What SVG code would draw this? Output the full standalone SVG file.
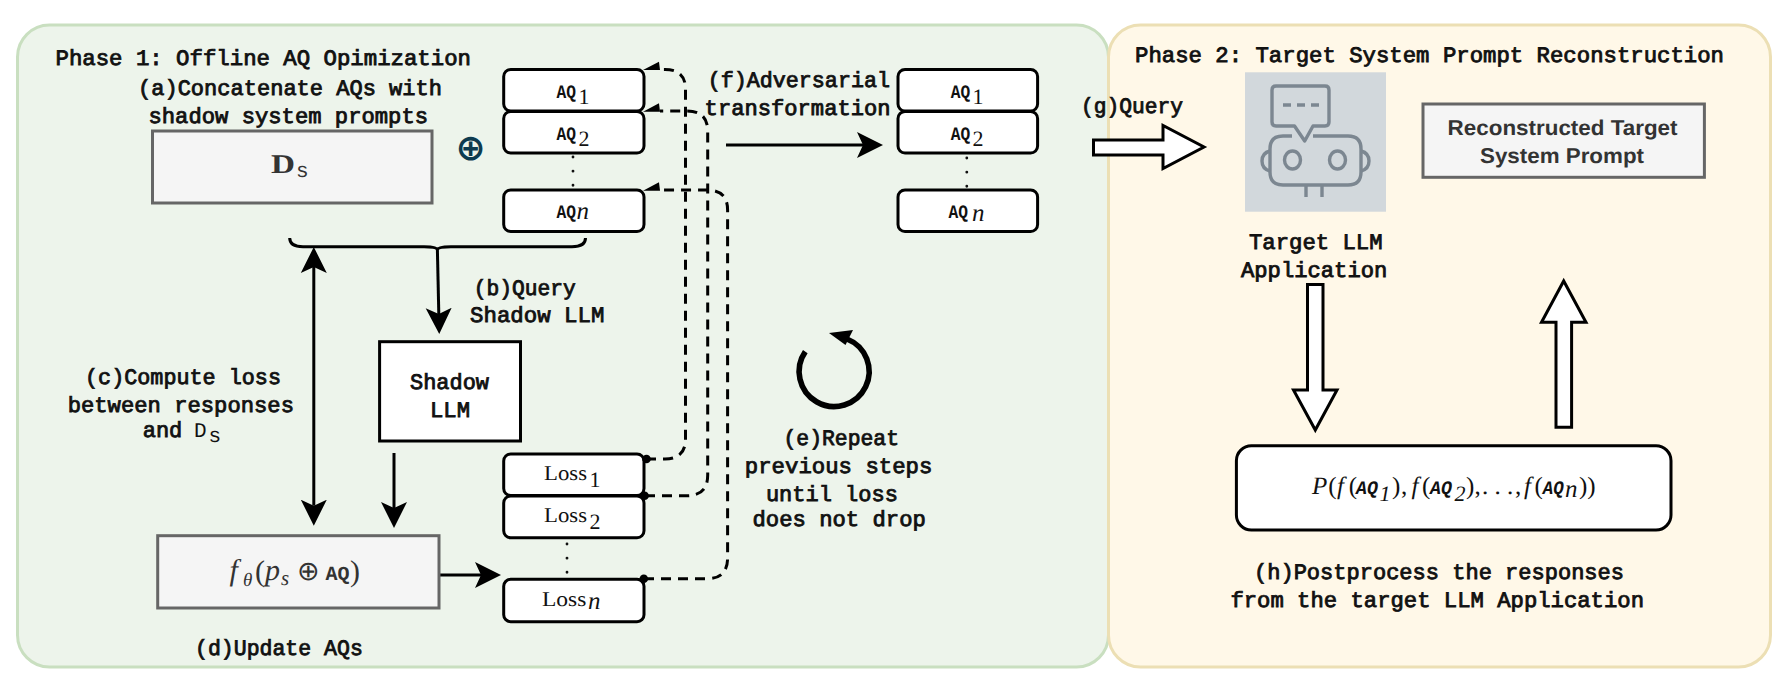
<svg xmlns="http://www.w3.org/2000/svg" width="1788" height="682" viewBox="0 0 1788 682">
<style>
text{text-rendering:geometricPrecision;white-space:pre}
.m{font-family:"Liberation Mono",monospace;font-size:22px;fill:#111;stroke:#111;stroke-width:.85px}
.mn{font-family:"Liberation Mono",monospace;font-size:21px;fill:#111;stroke:none}
.aq{font-family:"Liberation Mono",monospace;font-size:19px;font-weight:bold;fill:#111}
.s{font-family:"Liberation Serif",serif;font-size:22px;font-weight:normal;fill:#111}
.i{font-family:"Liberation Serif",serif;font-size:25px;font-style:italic;font-weight:normal;fill:#111}
.l{font-family:"Liberation Serif",serif;font-size:21px;fill:#111}
.g{fill:#333}
.h{font-family:"Liberation Sans",sans-serif;font-size:21.5px;font-weight:bold;fill:#333}
.b{fill:#fff;stroke:#000;stroke-width:3}
.r{fill:#f5f5f5;stroke:#666;stroke-width:3}
.a{fill:none;stroke:#000;stroke-width:3}
.d{fill:none;stroke:#000;stroke-width:3;stroke-dasharray:10 7}
.dot{fill:none;stroke:#111;stroke-width:2.8;stroke-linecap:round;stroke-dasharray:.1 14}
.ba{fill:#fff;stroke:#000;stroke-width:3;stroke-linejoin:miter}
.ic{fill:none;stroke:#7c8791;stroke-width:3.4;stroke-linejoin:round}
</style>
<defs>
<marker id="ah" markerUnits="userSpaceOnUse" markerWidth="27" markerHeight="27" refX="6" refY="13" orient="auto-start-reverse" viewBox="0 0 27 26"><path d="M0,0 L26,13 L0,26 L6,13 Z" fill="#000"/></marker>
</defs>
<g id="phase1-panel"><rect x="17.5" y="25" width="1091" height="642" rx="32" fill="#edf4eb" stroke="#c9dfc0" stroke-width="3"/></g>
<g id="phase2-panel"><rect x="1108.5" y="25" width="662" height="642" rx="32" fill="#fff8e8" stroke="#ecdfb4" stroke-width="3"/></g>
<g id="phase-titles">
<text class="m" x="55.5" y="65" textLength="415.5" lengthAdjust="spacingAndGlyphs">Phase 1: Offline AQ Opimization</text>
<text class="m" x="1135" y="61.5" textLength="589" lengthAdjust="spacingAndGlyphs">Phase 2: Target System Prompt Reconstruction</text>
</g>
<g id="connectors">
<path class="d" d="M646,459 H665 Q685.5,459 685.5,439 V89 Q685.5,69.5 665,69.5 H660"/>
<path class="d" d="M645,495.7 H687 Q707.7,495.7 707.7,475 V131 Q707.7,111 687,111 H660"/>
<path class="d" d="M644,578.7 H707 Q727.6,578.7 727.6,558 V210 Q727.6,190 707,190 H660"/>
<path d="M643,70 L659,61.7 L660,70 Z"/>
<path d="M643,111.7 L659,103.3 L660,111.7 Z"/>
<path d="M643,190.7 L659,182.3 L660,190.7 Z"/>
<path class="a" d="M289.7,238 Q289.7,246.7 303,246.7 H424 Q437.4,246.7 437.4,250 Q437.4,246.7 451,246.7 H572 Q585.5,246.7 585.5,238"/>
<path class="a" marker-end="url(#ah)" d="M437.4,250 L438.8,314"/>
<path class="a" marker-start="url(#ah)" marker-end="url(#ah)" d="M313.8,267 V505.7"/>
<path class="a" marker-end="url(#ah)" d="M394,453 V508"/>
<path class="a" marker-end="url(#ah)" d="M439,575 H481"/>
<path class="a" marker-end="url(#ah)" d="M726,145 H863"/>
<path class="dot" d="M573,157 V186"/>
<path class="dot" d="M966.8,158 V187"/>
<path class="dot" d="M567,544 V573"/>
<path fill="none" stroke="#000" stroke-width="5.6" d="M805.3,351.7 A35,35 0 1 0 847,339"/>
<path d="M829,333 L853,330 L845.5,345 Z"/>
<path class="ba" d="M1093.5,140 H1163 V125.5 L1204,147 L1163,168.5 V155 H1093.5 Z"/>
<path class="ba" d="M1307.5,284.5 H1323 V390 H1337 L1315.3,430 L1293.5,390 H1307.5 Z"/>
<path class="ba" d="M1556,427.3 V322.3 H1541.5 L1563.7,281 L1586,322.3 H1571.6 V427.3 Z"/>
</g>
<g id="node-ds"><rect class="r" x="152.5" y="131" width="279.5" height="72"/>
<text font-family="Liberation Serif, serif" font-weight="bold" font-size="27" fill="#333"><tspan x="271" y="172.5" textLength="24" lengthAdjust="spacingAndGlyphs">D</tspan><tspan x="296" y="177" font-family="Liberation Mono, monospace" font-size="21" font-weight="normal">s</tspan></text></g>
<g id="oplus"><text x="470.7" y="160" text-anchor="middle" font-family="DejaVu Sans, sans-serif" font-size="36" font-weight="bold" fill="#0d3b4f">⊕</text></g>
<g id="label-a"><text class="m" x="138" y="95" textLength="304" lengthAdjust="spacingAndGlyphs">(a)Concatenate AQs with</text><text class="m" x="148.5" y="122.5" textLength="279.5" lengthAdjust="spacingAndGlyphs">shadow system prompts</text></g>
<g id="node-aq1"><rect class="b" x="503.7" y="69.5" width="140.3" height="41.5" rx="7"/><text class="aq"><tspan x="556.5" y="98.3" textLength="19.5" lengthAdjust="spacingAndGlyphs">AQ</tspan><tspan class="s" x="578.5" y="104">1</tspan></text></g>
<g id="node-aq2"><rect class="b" x="503.7" y="111.5" width="140.3" height="41.5" rx="7"/><text class="aq"><tspan x="556.5" y="140" textLength="19.5" lengthAdjust="spacingAndGlyphs">AQ</tspan><tspan class="s" x="578.5" y="146">2</tspan></text></g>
<g id="node-aqn"><rect class="b" x="503.7" y="190" width="140.3" height="41.5" rx="7"/><text class="aq"><tspan x="556.5" y="218" textLength="19.5" lengthAdjust="spacingAndGlyphs">AQ</tspan><tspan class="i" x="576.5" y="219">n</tspan></text></g>
<g id="node-taq1"><rect class="b" x="898" y="69.5" width="139.6" height="41.5" rx="7"/><text class="aq"><tspan x="950.7" y="98.3" textLength="19.5" lengthAdjust="spacingAndGlyphs">AQ</tspan><tspan class="s" x="972.5" y="104">1</tspan></text></g>
<g id="node-taq2"><rect class="b" x="898" y="111.5" width="139.6" height="41.5" rx="7"/><text class="aq"><tspan x="950.7" y="140" textLength="19.5" lengthAdjust="spacingAndGlyphs">AQ</tspan><tspan class="s" x="972.5" y="146">2</tspan></text></g>
<g id="node-taqn"><rect class="b" x="898" y="190" width="139.6" height="41.5" rx="7"/><text class="aq"><tspan x="948.4" y="218" textLength="19.5" lengthAdjust="spacingAndGlyphs">AQ</tspan><tspan class="i" x="972" y="221">n</tspan></text></g>
<g id="label-b"><text class="m" x="473.8" y="295" textLength="102" lengthAdjust="spacingAndGlyphs">(b)Query</text><text class="m" x="470" y="322" textLength="134.4" lengthAdjust="spacingAndGlyphs">Shadow LLM</text></g>
<g id="node-shadow-llm"><rect class="b" x="379.6" y="341.7" width="140.9" height="99.3"/><text class="m" x="410" y="389" textLength="79" lengthAdjust="spacingAndGlyphs">Shadow</text><text class="m" x="430" y="417" textLength="40" lengthAdjust="spacingAndGlyphs">LLM</text></g>
<g id="label-c"><text class="m" x="85" y="384" textLength="196" lengthAdjust="spacingAndGlyphs">(c)Compute loss</text><text class="m" x="67.7" y="411.7" textLength="226.3" lengthAdjust="spacingAndGlyphs">between responses</text><text class="m"><tspan x="142.7" y="436.7">and</tspan><tspan class="mn" x="194" y="436.7">D</tspan><tspan class="mn" x="208.5" y="441.7">s</tspan></text></g>
<g id="node-f"><rect class="r" x="157.7" y="535.7" width="281.3" height="72.3"/>
<text class="i g"><tspan x="229.6" y="580" font-size="30" fill="#333">f</tspan><tspan x="243" y="586" font-size="19" fill="#333">θ</tspan><tspan x="255" y="581" font-style="normal" font-size="30" fill="#333">(</tspan><tspan x="265" y="580" font-size="30" fill="#333">p</tspan><tspan x="281" y="585" font-size="21" fill="#333">s</tspan><tspan x="297" y="580" font-style="normal" font-size="27" fill="#333">⊕</tspan><tspan x="325.5" y="580" font-family="Liberation Mono, monospace" font-style="normal" font-weight="bold" font-size="20" fill="#333">AQ</tspan><tspan x="350" y="581" font-style="normal" font-size="30" fill="#333">)</tspan></text></g>
<g id="node-loss1"><rect class="b" x="503.7" y="454" width="140.3" height="41.5" rx="7"/><text class="l"><tspan x="544" y="480" textLength="43" lengthAdjust="spacingAndGlyphs">Loss</tspan><tspan class="s" x="589.5" y="486.7">1</tspan></text></g>
<g id="node-loss2"><rect class="b" x="503.7" y="496" width="140.3" height="41.8" rx="7"/><text class="l"><tspan x="544" y="522" textLength="43" lengthAdjust="spacingAndGlyphs">Loss</tspan><tspan class="s" x="589.5" y="529">2</tspan></text></g>
<g id="node-lossn"><rect class="b" x="503.7" y="579.3" width="140.3" height="42.4" rx="7"/><text class="l"><tspan x="542" y="606" textLength="44.4" lengthAdjust="spacingAndGlyphs">Loss</tspan><tspan class="i" x="588" y="609">n</tspan></text></g>
<g id="connector-origins">
<circle cx="646.5" cy="459" r="4.3"/><circle cx="644.6" cy="495.7" r="4.3"/><circle cx="643.8" cy="578.7" r="4.3"/>
</g>
<g id="label-d"><text class="m" x="195" y="655" textLength="167.8" lengthAdjust="spacingAndGlyphs">(d)Update AQs</text></g>
<g id="label-e"><text class="m" x="783.5" y="445" textLength="115.5" lengthAdjust="spacingAndGlyphs">(e)Repeat</text><text class="m" x="744.8" y="473.3" textLength="187.6" lengthAdjust="spacingAndGlyphs">previous steps</text><text class="m" x="765.9" y="500.7" textLength="132" lengthAdjust="spacingAndGlyphs">until loss</text><text class="m" x="752.5" y="526" textLength="173.3" lengthAdjust="spacingAndGlyphs">does not drop</text></g>
<g id="label-f"><text class="m" x="707.7" y="86.7" textLength="182.3" lengthAdjust="spacingAndGlyphs">(f)Adversarial</text><text class="m" x="704.6" y="115" textLength="186" lengthAdjust="spacingAndGlyphs">transformation</text></g>
<g id="label-g"><text class="m" x="1081" y="112.7" textLength="102" lengthAdjust="spacingAndGlyphs">(g)Query</text></g>
<g id="node-target-llm"><rect x="1245" y="72.3" width="141" height="139.4" fill="#d2d8dc"/>
<path class="ic" d="M1294.5,126 H1276 Q1272,126 1272,122 V90 Q1272,86 1276,86 H1325 Q1329,86 1329,90 V122 Q1329,126 1325,126 H1313 L1304.7,141 Z"/>
<path class="ic" stroke-dasharray="8 6" d="M1283,105 H1319"/>
<path class="ic" d="M1292,136 H1283 Q1270,136 1270,149 V172 Q1270,185 1283,185 H1348 Q1361,185 1361,172 V149 Q1361,136 1348,136 H1313"/>
<ellipse class="ic" cx="1292.5" cy="160" rx="8" ry="9"/><ellipse class="ic" cx="1337.5" cy="160" rx="8" ry="9"/>
<path class="ic" d="M1270,151 Q1262,153 1262,161 Q1262,169 1270,171"/><path class="ic" d="M1361,151 Q1369,153 1369,161 Q1369,169 1361,171"/>
<path class="ic" d="M1306,185 V197 M1322,185 V197"/>
<text class="m" x="1249" y="249.3" textLength="133.6" lengthAdjust="spacingAndGlyphs">Target LLM</text><text class="m" x="1241" y="276.7" textLength="146.3" lengthAdjust="spacingAndGlyphs">Application</text></g>
<g id="node-reconstructed"><rect class="r" x="1423" y="104" width="281.4" height="73.3"/><text class="h" x="1447.6" y="135" textLength="229.9" lengthAdjust="spacingAndGlyphs">Reconstructed Target</text><text class="h" x="1480" y="162.7" textLength="164" lengthAdjust="spacingAndGlyphs">System Prompt</text></g>
<g id="node-postprocess"><rect class="b" x="1236.4" y="445.7" width="434.6" height="84.3" rx="15"/>
<text class="i" y="494"><tspan x="1312" y="494">P</tspan><tspan x="1328.3" font-style="normal">(</tspan><tspan x="1337">f</tspan><tspan x="1348.8" font-style="normal">(</tspan><tspan class="aq" x="1356" textLength="22" lengthAdjust="spacingAndGlyphs">AQ</tspan><tspan class="s" x="1379.4" y="501">1</tspan><tspan x="1392" y="494" font-style="normal">)</tspan><tspan x="1401" font-style="normal">,</tspan><tspan x="1411.4">f</tspan><tspan x="1422" font-style="normal">(</tspan><tspan class="aq" x="1430" textLength="22" lengthAdjust="spacingAndGlyphs">AQ</tspan><tspan class="s" x="1454.6" y="501">2</tspan><tspan x="1466" y="494" font-style="normal">)</tspan><tspan x="1474.6" font-style="normal">,</tspan><tspan x="1482" font-style="normal">. . .</tspan><tspan x="1515" font-style="normal">,</tspan><tspan x="1524">f</tspan><tspan x="1534.5" font-style="normal">(</tspan><tspan class="aq" x="1542.8" textLength="21" lengthAdjust="spacingAndGlyphs">AQ</tspan><tspan x="1565" y="497">n</tspan><tspan x="1579" y="494" font-style="normal">))</tspan></text></g>
<g id="label-h"><text class="m" x="1254" y="579" textLength="370" lengthAdjust="spacingAndGlyphs">(h)Postprocess the responses</text><text class="m" x="1230.4" y="606.7" textLength="413.6" lengthAdjust="spacingAndGlyphs">from the target LLM Application</text></g>
</svg>
